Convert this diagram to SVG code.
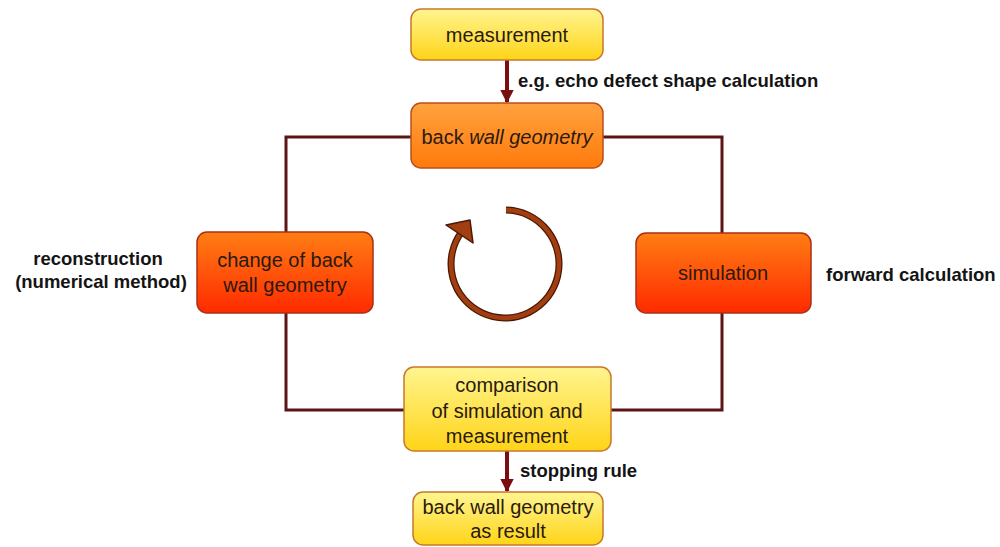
<svg xmlns="http://www.w3.org/2000/svg" width="1000" height="547" viewBox="0 0 1000 547">
  <defs>
    <linearGradient id="gYellow" x1="0" y1="0" x2="0" y2="1">
      <stop offset="0" stop-color="#fff590"/>
      <stop offset="1" stop-color="#ffd418"/>
    </linearGradient>
    <linearGradient id="gOrange" x1="0" y1="0" x2="0" y2="1">
      <stop offset="0" stop-color="#ffa23e"/>
      <stop offset="1" stop-color="#ff7a0c"/>
    </linearGradient>
    <linearGradient id="gRed" x1="0" y1="0" x2="0" y2="1">
      <stop offset="0" stop-color="#ff7e14"/>
      <stop offset="1" stop-color="#ff2a00"/>
    </linearGradient>
    <marker id="arrow" viewBox="0 0 10 10" refX="9" refY="5" markerWidth="3.4" markerHeight="3.4" orient="auto" markerUnits="strokeWidth">
      <path d="M0,0 L10,5 L0,10 z" fill="#7a0e0e"/>
    </marker>
    <style>
      .box-y { fill: url(#gYellow); stroke: #c8782c; stroke-width: 1.5; }
      .box-o { fill: url(#gOrange); stroke: #b8501c; stroke-width: 1.5; }
      .box-r { fill: url(#gRed); stroke: #a83018; stroke-width: 1.5; }
      .txt { font-family: "Liberation Sans", Arial, sans-serif; font-size: 20px; fill: #2a1a10; text-anchor: middle; }
      .lbl { font-family: "Liberation Sans", Arial, sans-serif; font-size: 18.5px; font-weight: bold; fill: #141414; }
      .loop { fill: none; stroke: #5c1414; stroke-width: 3; }
      .flow { fill: none; stroke: #7a0e0e; stroke-width: 4; marker-end: url(#arrow); }
      .ring-out { fill: none; stroke: #4a1806; stroke-width: 7; }
      .ring-in { fill: none; stroke: #a23e10; stroke-width: 4.5; }
    </style>
  </defs>

  <rect width="1000" height="547" fill="#ffffff"/>

  <!-- connectors -->
  <g id="connectors">
    <path class="loop" d="M411,137 H286 V410 H404"/>
    <path class="loop" d="M603,137 H722 V410 H611"/>
    <line class="flow" x1="507" y1="60" x2="507" y2="102"/>
    <line class="flow" x1="507" y1="451" x2="507" y2="491"/>
    <text class="lbl" x="518" y="87">e.g. echo defect shape calculation</text>
    <text class="lbl" x="520" y="477">stopping rule</text>
  </g>

  <!-- iteration symbol -->
  <g id="cycle">
    <path class="ring-out" d="M506,210 A54,54 0 1 1 461.9,231.5"/>
    <path class="ring-in" d="M506,210 A54,54 0 1 1 461.9,231.5"/>
    <polygon points="446,225 470,220 473,243" fill="#a23e10" stroke="#4a1806" stroke-width="1.5" stroke-linejoin="round"/>
  </g>

  <g id="measurement">
    <rect class="box-y" x="411" y="9" width="192" height="51" rx="10"/>
    <text class="txt" x="507" y="42">measurement</text>
  </g>

  <g id="back-wall-geometry">
    <rect class="box-o" x="411" y="103" width="192" height="65" rx="10"/>
    <text class="txt" x="507" y="144">back <tspan font-style="italic">wall geometry</tspan></text>
  </g>

  <g id="change-geometry">
    <rect class="box-r" x="197" y="232" width="176" height="81" rx="10"/>
    <text class="txt" x="285" y="267">change of back</text>
    <text class="txt" x="285" y="292">wall geometry</text>
  </g>
  <g id="reconstruction-label">
    <text class="lbl" x="98" y="265" text-anchor="middle">reconstruction</text>
    <text class="lbl" x="101" y="288" text-anchor="middle">(numerical method)</text>
  </g>

  <g id="simulation">
    <rect class="box-r" x="636" y="233" width="175" height="80" rx="10"/>
    <text class="txt" x="723" y="280">simulation</text>
  </g>
  <g id="forward-label">
    <text class="lbl" x="826" y="281">forward calculation</text>
  </g>

  <g id="comparison">
    <rect class="box-y" x="404" y="367" width="207" height="84" rx="10"/>
    <text class="txt" x="507" y="392">comparison</text>
    <text class="txt" x="507" y="418">of simulation and</text>
    <text class="txt" x="507" y="443">measurement</text>
  </g>

  <g id="result">
    <rect class="box-y" x="413" y="492" width="190" height="53" rx="10"/>
    <text class="txt" x="508" y="514">back wall geometry</text>
    <text class="txt" x="508" y="538">as result</text>
  </g>
</svg>
